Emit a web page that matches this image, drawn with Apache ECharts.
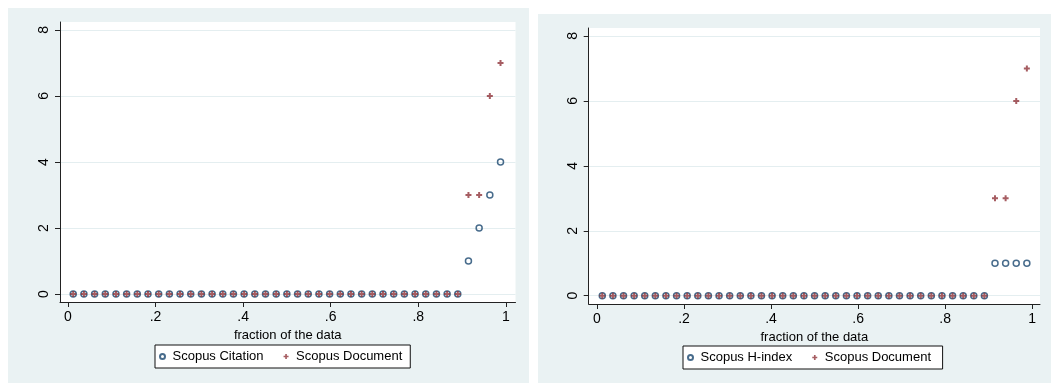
<!DOCTYPE html>
<html>
<head>
<meta charset="utf-8">
<title>Quantile plots</title>
<script src="https://cdn.jsdelivr.net/npm/echarts@6/dist/echarts.min.js"></script>
<style>
  html, body { margin: 0; padding: 0; background: #ffffff; }
  #chart { width: 1051px; height: 383px; }
</style>
</head>
<body>
<div id="chart"></div>
<script>
// Fraction of the data for each of the 41 sorted observations
var fraction = [
  0.0122, 0.0366, 0.0610, 0.0854, 0.1098, 0.1341, 0.1585, 0.1829, 0.2073, 0.2317,
  0.2561, 0.2805, 0.3049, 0.3293, 0.3537, 0.3780, 0.4024, 0.4268, 0.4512, 0.4756,
  0.5000, 0.5244, 0.5488, 0.5732, 0.5976, 0.6220, 0.6463, 0.6707, 0.6951, 0.7195,
  0.7439, 0.7683, 0.7927, 0.8171, 0.8415, 0.8659, 0.8902, 0.9146, 0.9390, 0.9634,
  0.9878
];

// Sorted values of each variable
var scopusCitation = [
  0, 0, 0, 0, 0, 0, 0, 0, 0, 0,
  0, 0, 0, 0, 0, 0, 0, 0, 0, 0,
  0, 0, 0, 0, 0, 0, 0, 0, 0, 0,
  0, 0, 0, 0, 0, 0, 0, 1, 2, 3,
  4
];
var scopusDocument = [
  0, 0, 0, 0, 0, 0, 0, 0, 0, 0,
  0, 0, 0, 0, 0, 0, 0, 0, 0, 0,
  0, 0, 0, 0, 0, 0, 0, 0, 0, 0,
  0, 0, 0, 0, 0, 0, 0, 3, 3, 6,
  7
];
var scopusHIndex = [
  0, 0, 0, 0, 0, 0, 0, 0, 0, 0,
  0, 0, 0, 0, 0, 0, 0, 0, 0, 0,
  0, 0, 0, 0, 0, 0, 0, 0, 0, 0,
  0, 0, 0, 0, 0, 0, 0, 1, 1, 1,
  1
];

// Tick positions and their printed labels
var xTicks = [0, 0.2, 0.4, 0.6, 0.8, 1];
var xTickLabels = ['0', '.2', '.4', '.6', '.8', '1'];
var yTicks = [0, 2, 4, 6, 8];
var yTickLabels = ['0', '2', '4', '6', '8'];

var xTitle = 'fraction of the data';

var NAVY = '#1a476f';
var MAROON = '#90353b';
var PANEL = '#eaf2f3';
var FONT = '"Liberation Sans", Arial, sans-serif';
var PLUS = 'path://M2,0H4V2H6V4H4V6H2V4H0V2H2Z';

function pairs(xs, ys) {
  return xs.map(function (x, i) { return [x, ys[i]]; });
}

function xAxisFor(gridIndex, min, max) {
  return {
    type: 'value', gridIndex: gridIndex, min: min, max: max,
    name: xTitle, nameLocation: 'middle', nameGap: 21,
    nameTextStyle: { color: '#000', fontSize: 13, fontFamily: FONT },
    axisLine: { show: true, onZero: false, lineStyle: { color: '#222', width: 1 } },
    axisTick: { show: true, length: 5, customValues: xTicks, lineStyle: { color: '#222' } },
    axisLabel: {
      customValues: xTicks, margin: 8, color: '#000', fontSize: 14, fontFamily: FONT,
      formatter: function (v) { var i = xTicks.indexOf(v); return i >= 0 ? xTickLabels[i] : ''; }
    },
    splitLine: { show: false }
  };
}

function yAxisFor(gridIndex, min, max) {
  return {
    type: 'value', gridIndex: gridIndex, min: min, max: max,
    axisLine: { show: true, onZero: false, lineStyle: { color: '#222', width: 1 } },
    axisTick: { show: true, length: 5, customValues: yTicks, lineStyle: { color: '#222' } },
    axisLabel: {
      customValues: yTicks, rotate: 90, margin: 9, color: '#000', fontSize: 14, fontFamily: FONT,
      formatter: function (v) { var i = yTicks.indexOf(v); return i >= 0 ? yTickLabels[i] : ''; }
    },
    splitLine: { show: true, lineStyle: { color: '#e4eef0', width: 1 } }
  };
}

function circleSeries(name, values, idx) {
  return {
    name: name, type: 'scatter', xAxisIndex: idx, yAxisIndex: idx,
    data: pairs(fraction, values), symbol: 'circle', symbolSize: 6,
    itemStyle: { color: 'rgba(0,0,0,0)', borderColor: NAVY, borderWidth: 1.5 },
    z: 2
  };
}

function plusSeries(name, values, idx) {
  return {
    name: name, type: 'scatter', xAxisIndex: idx, yAxisIndex: idx,
    data: pairs(fraction, values), symbol: PLUS, symbolSize: 6,
    itemStyle: { color: MAROON },
    z: 3
  };
}

function legendFor(left, top, names) {
  return {
    left: left, top: top, orient: 'horizontal',
    data: names,
    itemWidth: 10, itemHeight: 5, itemGap: 20,
    padding: [5, 8, 5, 4],
    backgroundColor: '#ffffff', borderColor: '#111', borderWidth: 1, borderRadius: 0,
    textStyle: { color: '#000', fontSize: 13, fontFamily: FONT },
    selectedMode: false
  };
}

var chart = echarts.init(document.getElementById('chart'), null, { renderer: 'canvas' });

chart.setOption({
  animation: false,
  backgroundColor: '#ffffff',
  graphic: [
    { type: 'rect', z: -10, silent: true, shape: { x: 8, y: 8, width: 521, height: 375 }, style: { fill: PANEL } },
    { type: 'rect', z: -10, silent: true, shape: { x: 538, y: 14, width: 513, height: 369 }, style: { fill: PANEL } }
  ],
  grid: [
    { left: 60, top: 22, width: 455.5, height: 280, show: true, backgroundColor: '#ffffff', borderWidth: 0 },
    { left: 588.7, top: 28, width: 451.3, height: 276, show: true, backgroundColor: '#ffffff', borderWidth: 0 }
  ],
  xAxis: [xAxisFor(0, -0.018, 1.022), xAxisFor(1, -0.019, 1.018)],
  yAxis: [yAxisFor(0, -0.24, 8.24), yAxisFor(1, -0.256, 8.245)],
  legend: [
    legendFor(155, 345, ['Scopus Citation', 'Scopus Document']),
    legendFor(683, 346, ['Scopus H-index', 'Scopus Document '])
  ],
  series: [
    circleSeries('Scopus Citation', scopusCitation, 0),
    plusSeries('Scopus Document', scopusDocument, 0),
    circleSeries('Scopus H-index', scopusHIndex, 1),
    plusSeries('Scopus Document ', scopusDocument, 1)
  ]
});
</script>
</body>
</html>
